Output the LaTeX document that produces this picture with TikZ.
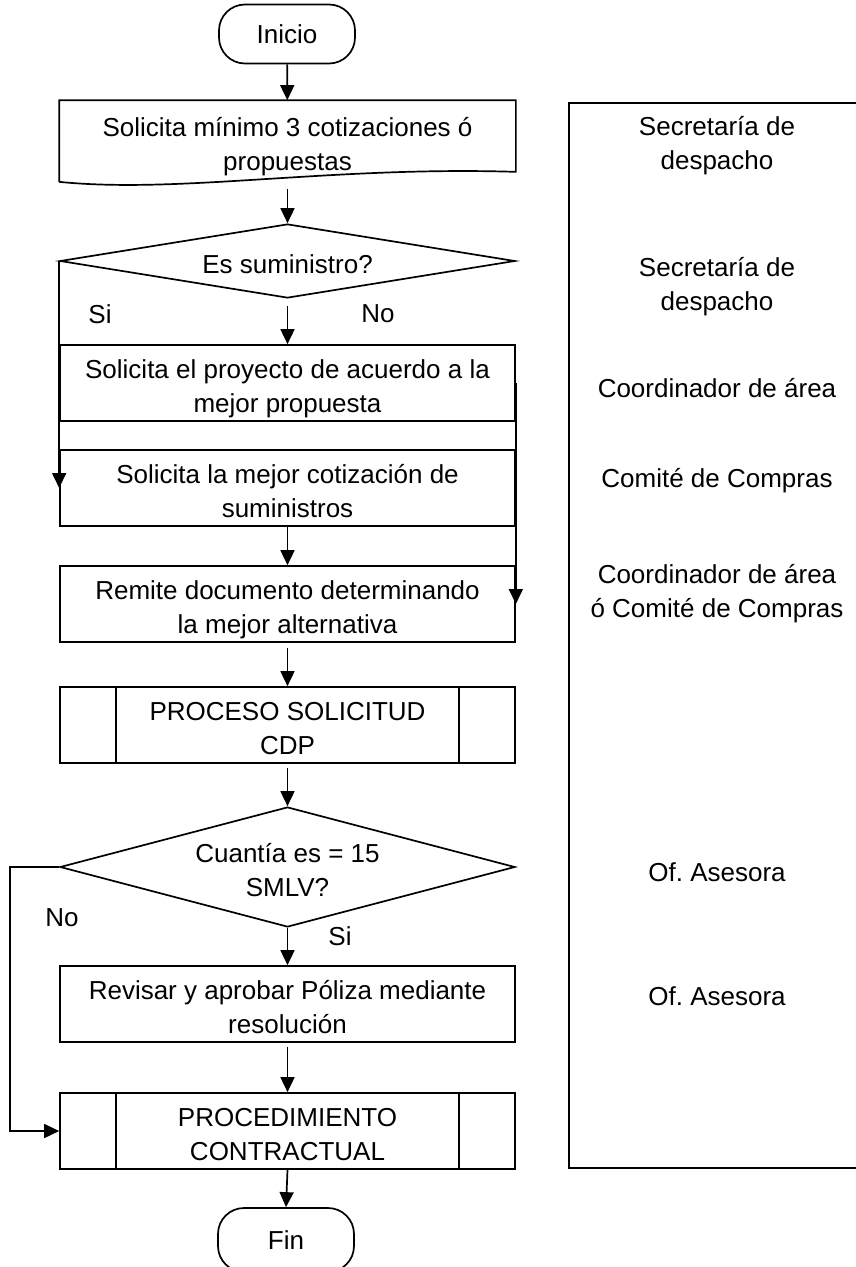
\documentclass[tikz,border=0pt]{standalone}
\usepackage{fontspec}
\setmainfont{Liberation Sans}
\usetikzlibrary{shapes.geometric,arrows.meta}
\newcommand{\bajado}[1]{\raisebox{-6pt}[\height][\depth]{\begin{tabular}{@{}c@{}}#1\end{tabular}}}

\begin{document}
\begin{tikzpicture}[x=1pt,y=-1pt,
        font=\fontsize{26}{34}\selectfont,
        line width=1.7pt,
        terminal/.style={draw, rectangle, rounded corners=26pt, minimum width=136pt, minimum height=59pt},
        caja/.style={draw, rectangle, inner sep=2pt, minimum width=455pt, minimum height=76pt},
        decision/.style={draw, diamond, inner sep=0pt, minimum width=455pt},
        subproceso/.style={caja, path picture={
            \draw[line width=1.7pt] ([xshift=56pt]path picture bounding box.north west) -- ([xshift=56pt]path picture bounding box.south west)
                ([xshift=-56pt]path picture bounding box.north east) -- ([xshift=-56pt]path picture bounding box.south east);}},
        flecha/.style={-{Triangle[length=15pt,width=14pt]}},
        rotulo/.style={align=center}]
        \useasboundingbox (0,0) rectangle (855,1267);

        \node[terminal] (inicio) at (287,34) {Inicio};
        \node[inner sep=2pt, minimum width=455pt, minimum height=80pt] (doc) at (287.5,141) {\bajado{Solicita mínimo 3 cotizaciones ó\\propuestas}};
        \draw (doc.south west) -- (doc.north west) -- (doc.north east) -- ([yshift=10pt]doc.south east)
            .. controls (330,166) and (180,194) .. (doc.south west);
        \node[decision, aspect=5, minimum height=74pt] (sumin) at (287.5,261) {\bajado{Es suministro?}};
        \node[caja] (proyecto) at (287.5,383) {\bajado{Solicita el proyecto de acuerdo a la\\mejor propuesta}};
        \node[caja] (cotiz) at (287.5,488) {\bajado{Solicita la mejor cotización de\\suministros}};
        \node[caja] (remite) at (287.5,604) {\bajado{Remite documento determinando\\la mejor alternativa}};
        \node[subproceso] (cdp) at (287.5,725) {\bajado{PROCESO SOLICITUD\\CDP}};
        \node[decision, aspect=3.8, minimum height=120pt] (cuantia) at (287.5,867) {\bajado{Cuantía es = 15\\SMLV?}};
        \node[caja] (poliza) at (287.5,1004) {\bajado{Revisar y aprobar Póliza mediante\\resolución}};
        \node[subproceso] (contrato) at (287.5,1131) {\bajado{PROCEDIMIENTO\\CONTRACTUAL}};
        \node[terminal, minimum height=64pt] (fin) at (286,1240) {Fin};

        \node (si1) at (100,314) {Si};
        \node (no1) at (378,314) {No};
        \node (no2) at (62,918) {No};
        \node (si2) at (340,936) {Si};

        \draw[flecha] (inicio) -- (doc);
        \draw[flecha] ([yshift=-7pt]doc.south) -- (sumin.north);
        \draw[flecha] ([yshift=-7pt]sumin.south) -- (proyecto.north);
        \draw[flecha] (sumin.west) -- (cotiz.west);
        \draw[flecha] (proyecto.east) -- (remite.east);
        \draw[flecha] (cotiz.south) -- (remite.north);
        \draw[flecha] ([yshift=-5pt]remite.south) -- (cdp.north);
        \draw[flecha] ([yshift=-4pt]cdp.south) -- (cuantia.north);
        \draw[flecha] (cuantia.south) -- (poliza.north);
        \draw[flecha] (cuantia.west) -- ++(-49pt,0) |- (contrato.west);
        \draw[flecha] ([yshift=-4pt]poliza.south) -- (contrato.north);
        \draw[flecha] (contrato.south) -- (fin.north);

        \node[draw, minimum width=291pt, minimum height=1065pt] (resp) at (714.5,635.5) {};
        \node[rotulo] (r1) at (717,146) {Secretaría de\\despacho};
        \node[rotulo] (r2) at (717,287) {Secretaría de\\despacho};
        \node[rotulo] (r3) at (717,388) {Coordinador de área};
        \node[rotulo] (r4) at (717,481) {Comité de Compras};
        \node[rotulo] (r5) at (717,594) {Coordinador de área\\ó Comité de Compras};
        \node[rotulo] (r6) at (717,872) {Of.\ Asesora};
        \node[rotulo] (r7) at (717,996) {Of.\ Asesora};
\end{tikzpicture}
\end{document}
